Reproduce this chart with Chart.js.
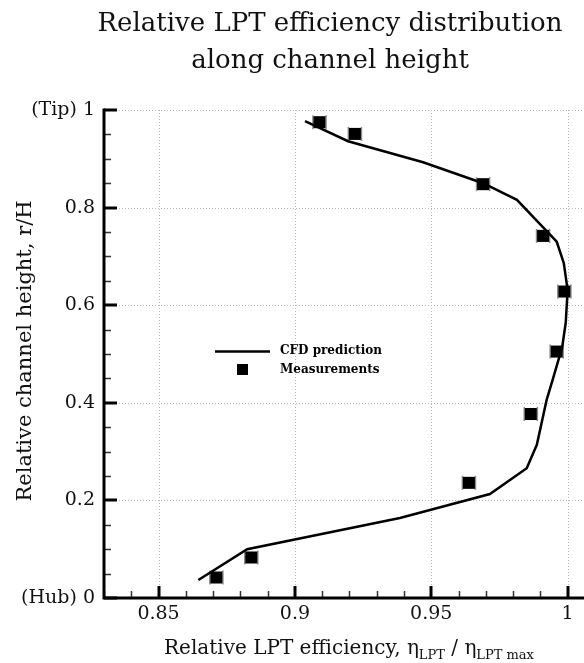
<!DOCTYPE html>
<html>
<head>
<meta charset="utf-8">
<script src="https://cdn.jsdelivr.net/npm/chart.js@4/dist/chart.umd.min.js"></script>
<style>
  html, body { margin: 0; padding: 0; background: #fff; }
</style>
</head>
<body>
<canvas id="chart" width="584" height="663"></canvas>
<script>
// CFD prediction curve (efficiency, r/H)
const cfdX = [0.9037, 0.9195, 0.947, 0.969, 0.9814, 0.996, 0.9986, 1.000, 0.9993, 0.998, 0.9945, 0.9923, 0.9887, 0.985, 0.9715, 0.9385, 0.8825, 0.8646];
const cfdY = [0.977, 0.936, 0.893, 0.850, 0.816, 0.730, 0.686, 0.631, 0.564, 0.514, 0.447, 0.406, 0.314, 0.266, 0.213, 0.164, 0.100, 0.037];

// measurements with horizontal error
const measX = [0.909, 0.922, 0.969, 0.991, 0.9988, 0.996, 0.9865, 0.9638, 0.884, 0.8712];
const measY = [0.975, 0.951, 0.848, 0.742, 0.628, 0.505, 0.377, 0.236, 0.083, 0.042];
const measErr = [0.0024, 0.0024, 0.0024, 0.0024, 0.0024, 0.0024, 0.0024, 0.0024, 0.0024, 0.0024];

const xTicks = [0.85, 0.9, 0.95, 1];
const yTicks = [0, 0.2, 0.4, 0.6, 0.8, 1];
const yTickLabels = ["(Hub) 0", "0.2", "0.4", "0.6", "0.8", "(Tip) 1"];

const SERIF = '"DejaVu Serif", serif';

function seg(ctx, x0, y0, x1, y1) {
  ctx.beginPath();
  ctx.moveTo(x0, y0);
  ctx.lineTo(x1, y1);
  ctx.stroke();
}

const decor = {
  id: "decor",
  beforeDatasetsDraw(chart) {
    const { ctx, chartArea: a, scales: { x, y } } = chart;
    ctx.save();
    // dotted grid
    ctx.strokeStyle = "#b8b8b8";
    ctx.lineWidth = 1;
    ctx.setLineDash([1, 2]);
    xTicks.forEach(v => {
      const px = Math.round(x.getPixelForValue(v)) + 0.5;
      seg(ctx, px, a.top, px, a.bottom);
    });
    yTicks.forEach(v => {
      if (v === 0) return;
      const py = Math.round(y.getPixelForValue(v)) + 0.5;
      seg(ctx, a.left, py, a.right, py);
    });
    ctx.setLineDash([]);
    // error bars
    ctx.strokeStyle = "#8a8a8a";
    ctx.lineWidth = 1.5;
    measX.forEach((v, i) => {
      const x0 = x.getPixelForValue(v - measErr[i]);
      const x1 = x.getPixelForValue(v + measErr[i]);
      const py = y.getPixelForValue(measY[i]);
      seg(ctx, x0, py, x1, py);
      seg(ctx, x0, py - 7, x0, py + 7);
      seg(ctx, x1, py - 7, x1, py + 7);
    });
    ctx.restore();
  },
  afterDraw(chart) {
    const { ctx, chartArea: a, scales: { x, y } } = chart;
    ctx.save();

    // minor ticks
    ctx.strokeStyle = "#333";
    ctx.lineWidth = 1.5;
    for (let k = 83; k <= 100; k++) {
      if (k % 5 === 0) continue;
      const px = Math.round(x.getPixelForValue(k / 100)) + 0.5;
      seg(ctx, px, a.bottom, px, a.bottom - 7);
    }
    for (let k = 1; k < 20; k++) {
      if (k % 4 === 0) continue;
      const py = Math.round(y.getPixelForValue(k / 20)) + 0.5;
      seg(ctx, a.left, py, a.left + 7, py);
    }
    // major ticks
    ctx.strokeStyle = "#000";
    ctx.lineWidth = 3;
    xTicks.forEach(v => {
      const px = Math.round(x.getPixelForValue(v));
      seg(ctx, px, a.bottom, px, a.bottom - 12);
    });
    yTicks.forEach(v => {
      const py = Math.round(y.getPixelForValue(v));
      seg(ctx, a.left, py, a.left + 13, py);
    });
    // spines
    ctx.lineWidth = 3;
    ctx.beginPath();
    ctx.moveTo(a.left, a.top - 1.5);
    ctx.lineTo(a.left, a.bottom);
    ctx.lineTo(a.right, a.bottom);
    ctx.stroke();

    // title
    ctx.fillStyle = "#111";
    ctx.textAlign = "center";
    ctx.textBaseline = "alphabetic";
    ctx.font = "26px " + SERIF;
    ctx.fillText("Relative LPT efficiency distribution", 330, 31);
    ctx.fillText("along channel height", 330, 68);

    // y title
    ctx.save();
    ctx.translate(26, 351);
    ctx.rotate(-Math.PI / 2);
    ctx.textBaseline = "middle";
    ctx.font = "21px " + SERIF;
    ctx.fillText("Relative channel height, r/H", 0, 0);
    ctx.restore();

    // x title with subscripts
    const parts = [
      ["Relative LPT efficiency, \u03b7", 20, 0],
      ["LPT", 13, 5],
      [" / \u03b7", 20, 0],
      ["LPT max", 13, 5]
    ];
    let cx = 164;
    ctx.textAlign = "left";
    parts.forEach(p => {
      ctx.font = p[1] + "px " + SERIF;
      ctx.fillText(p[0], cx, 654 + p[2]);
      cx += ctx.measureText(p[0]).width;
    });

    // legend
    ctx.strokeStyle = "#000";
    ctx.lineWidth = 2.5;
    seg(ctx, 215, 351.5, 270, 351.5);
    ctx.fillStyle = "#000";
    ctx.fillRect(237, 364, 11, 11);
    ctx.font = "bold 12px " + SERIF;
    ctx.textBaseline = "middle";
    ctx.fillText("CFD prediction", 280, 351);
    ctx.fillText("Measurements", 280, 370);

    ctx.restore();
  }
};

new Chart(document.getElementById("chart"), {
  type: "scatter",
  data: {
    datasets: [
      {
        label: "Measurements",
        data: measX.map((v, i) => ({ x: v, y: measY[i] })),
        pointStyle: "rect",
        pointRadius: 8.5,
        backgroundColor: "#000",
        borderColor: "#000",
        borderWidth: 0
      },
      {
        label: "CFD prediction",
        data: cfdX.map((v, i) => ({ x: v, y: cfdY[i] })),
        showLine: true,
        borderColor: "#000",
        borderWidth: 2.5,
        pointRadius: 0,
        tension: 0
      }
    ]
  },
  options: {
    responsive: false,
    animation: false,
    devicePixelRatio: 1,
    layout: { autoPadding: false, padding: { top: 110, right: 0, left: 0, bottom: 0 } },
    plugins: { legend: { display: false }, tooltip: { enabled: false } },
    scales: {
      x: {
        type: "linear",
        min: 0.83,
        max: 1.006,
        afterFit(s) { s.height = 65; s.paddingLeft = 0; s.paddingRight = 0; },
        afterBuildTicks(s) { s.ticks = xTicks.map(v => ({ value: v })); },
        grid: { display: false, drawTicks: false },
        border: { display: false },
        ticks: {
          font: { family: SERIF, size: 19 },
          color: "#111",
          padding: 5,
          maxRotation: 0,
          autoSkip: false,
          callback: v => String(v)
        }
      },
      y: {
        type: "linear",
        min: 0,
        max: 1,
        afterFit(s) { s.width = 104; s.paddingTop = 0; s.paddingBottom = 0; },
        afterBuildTicks(s) { s.ticks = yTicks.map(v => ({ value: v })); },
        grid: { display: false, drawTicks: false },
        border: { display: false },
        ticks: {
          font: { family: SERIF, size: 19 },
          color: "#111",
          padding: 9,
          autoSkip: false,
          callback: v => yTickLabels[yTicks.indexOf(v)]
        }
      }
    }
  },
  plugins: [decor]
});
</script>
</body>
</html>
